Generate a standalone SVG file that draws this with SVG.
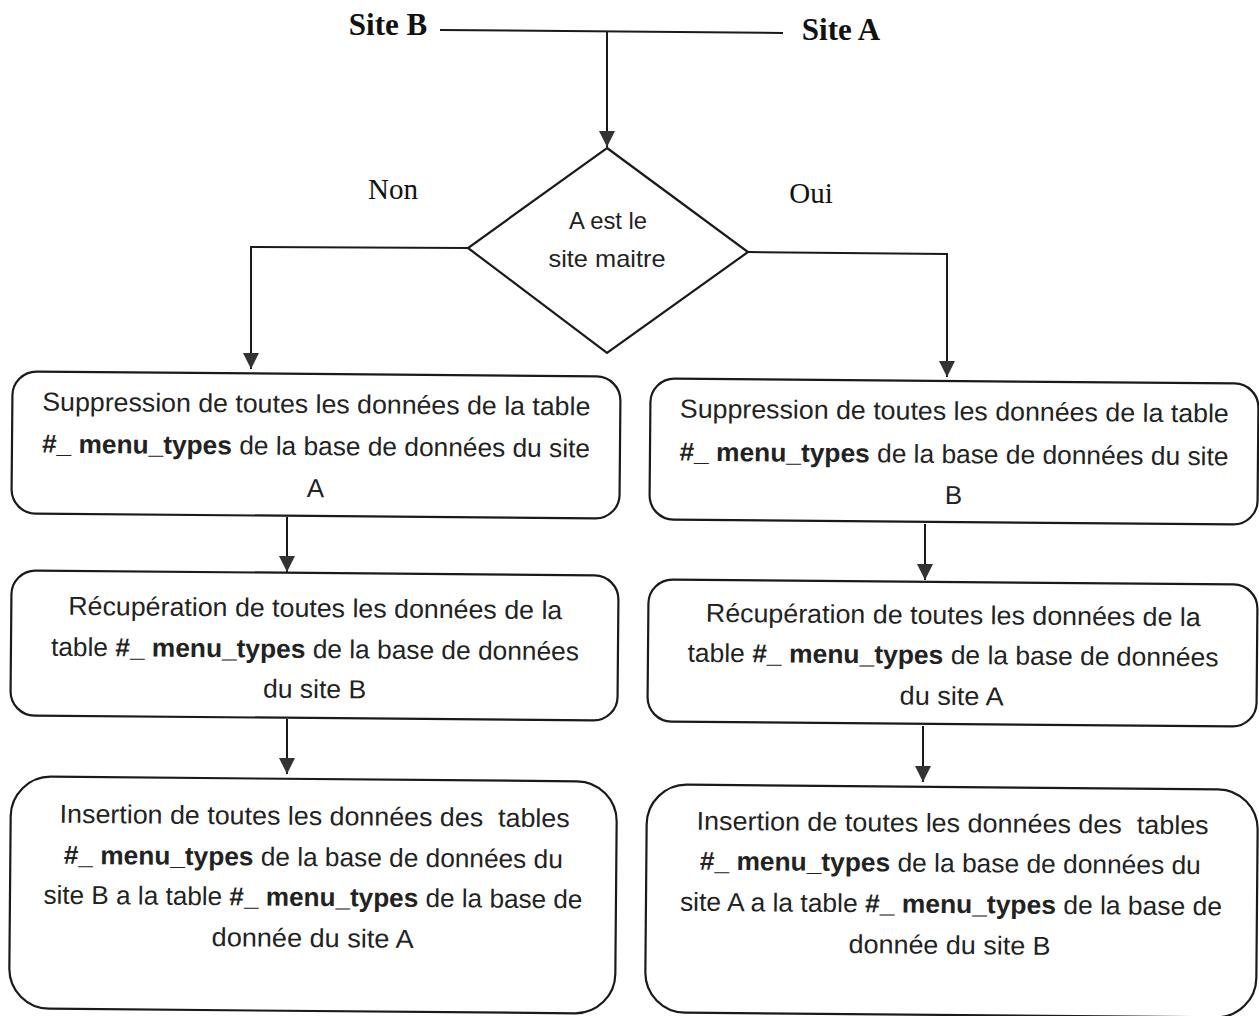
<svg xmlns="http://www.w3.org/2000/svg" width="1259" height="1016" viewBox="0 0 1259 1016">
<style>
.bg{fill:#ffffff}
.box{fill:#ffffff;stroke:#1a1a1a;stroke-width:2.2}
.t{font-family:"Liberation Sans",Arial,sans-serif;font-size:26px;fill:#222;text-anchor:middle}
.b{font-weight:bold}
.dt{font-family:"Liberation Sans",Arial,sans-serif;font-size:24px;fill:#222;text-anchor:middle}
.lbl{font-family:"Liberation Serif","Times New Roman",serif;font-size:29px;fill:#111;text-anchor:middle}
.site{font-family:"Liberation Serif","Times New Roman",serif;font-size:31px;font-weight:bold;fill:#111;text-anchor:middle}
.c{fill:none;stroke:#1a1a1a;stroke-width:2}
</style>
<defs>
<marker id="ah" viewBox="0 0 10 10" refX="10" refY="5" markerUnits="userSpaceOnUse" markerWidth="16" markerHeight="16" orient="auto">
<path d="M0,0 L10,5 L0,10 z" fill="#333"/>
</marker>
</defs>
<rect class="bg" x="0" y="0" width="1259" height="1016"/>

<g id="siteB"><text class="site" x="388" y="35">Site B</text></g>
<g id="siteA"><text class="site" x="841" y="40">Site A</text></g>

<g id="connectors">
<path class="c" d="M440,30 L783,33"/>
<path class="c" d="M607,31 L607,147" marker-end="url(#ah)"/>
<path class="c" d="M468,248 L251,247 L251,369" marker-end="url(#ah)"/>
<path class="c" d="M748,252 L947,254 L947,377" marker-end="url(#ah)"/>
<path class="c" d="M287,517 L287,572" marker-end="url(#ah)"/>
<path class="c" d="M287,719 L287,774" marker-end="url(#ah)"/>
<path class="c" d="M925,524 L925,580" marker-end="url(#ah)"/>
<path class="c" d="M923,726 L923,782" marker-end="url(#ah)"/>
</g>

<g id="lbl-non"><text class="lbl" x="393" y="199">Non</text></g>
<g id="lbl-oui"><text class="lbl" x="811" y="203">Oui</text></g>

<g id="decision">
<polygon class="box" points="607,148 748,252 607,353 468,248"/>
<text class="dt" x="608" y="229" textLength="78" lengthAdjust="spacingAndGlyphs">A est le</text>
<text class="dt" x="607" y="267" textLength="117" lengthAdjust="spacingAndGlyphs">site maitre</text>
</g>

<g id="L1" transform="rotate(0.5 316 445)">
<rect class="box" x="12" y="374" width="608" height="142" rx="24"/>
<text class="t" x="316" y="413" textLength="548" lengthAdjust="spacingAndGlyphs">Suppression de toutes les données de la table</text>
<text class="t" x="316" y="455" textLength="548" lengthAdjust="spacingAndGlyphs"><tspan class="b">#_ menu_types</tspan> de la base de données du site</text>
<text class="t" x="316" y="497">A</text>
</g>

<g id="L2" transform="rotate(0.5 315 645)">
<rect class="box" x="11" y="573" width="607" height="145" rx="24"/>
<text class="t" x="315" y="617" textLength="494" lengthAdjust="spacingAndGlyphs">Récupération de toutes les données de la</text>
<text class="t" x="315" y="658" textLength="528" lengthAdjust="spacingAndGlyphs">table <tspan class="b">#_ menu_types</tspan> de la base de données</text>
<text class="t" x="315" y="698" textLength="103" lengthAdjust="spacingAndGlyphs">du site B</text>
</g>

<g id="L3" transform="rotate(0.5 313 895)">
<rect class="box" x="10" y="779" width="606" height="232" rx="40"/>
<text class="t" x="314" y="825" textLength="510" lengthAdjust="spacingAndGlyphs" xml:space="preserve">Insertion de toutes les données des  tables</text>
<text class="t" x="313" y="866" textLength="499" lengthAdjust="spacingAndGlyphs"><tspan class="b">#_ menu_types</tspan> de la base de données du</text>
<text class="t" x="313" y="906" textLength="539" lengthAdjust="spacingAndGlyphs">site B a la table <tspan class="b">#_ menu_types</tspan> de la base de</text>
<text class="t" x="313" y="947" textLength="202" lengthAdjust="spacingAndGlyphs">donnée du site A</text>
</g>

<g id="R1" transform="rotate(0.5 954 451)">
<rect class="box" x="650" y="381" width="608" height="141" rx="24"/>
<text class="t" x="954" y="420" textLength="549" lengthAdjust="spacingAndGlyphs">Suppression de toutes les données de la table</text>
<text class="t" x="954" y="463" textLength="549" lengthAdjust="spacingAndGlyphs"><tspan class="b">#_ menu_types</tspan> de la base de données du site</text>
<text class="t" x="954" y="504">B</text>
</g>

<g id="R2" transform="rotate(0.5 952 653)">
<rect class="box" x="648" y="582" width="609" height="142" rx="24"/>
<text class="t" x="953" y="624" textLength="495" lengthAdjust="spacingAndGlyphs">Récupération de toutes les données de la</text>
<text class="t" x="953" y="664" textLength="531" lengthAdjust="spacingAndGlyphs">table <tspan class="b">#_ menu_types</tspan> de la base de données</text>
<text class="t" x="952" y="705" textLength="104" lengthAdjust="spacingAndGlyphs">du site A</text>
</g>

<g id="R3" transform="rotate(0.5 952 901)">
<rect class="box" x="646" y="787" width="611" height="228" rx="40"/>
<text class="t" x="952" y="832" textLength="512" lengthAdjust="spacingAndGlyphs" xml:space="preserve">Insertion de toutes les données des  tables</text>
<text class="t" x="950" y="872" textLength="501" lengthAdjust="spacingAndGlyphs"><tspan class="b">#_ menu_types</tspan> de la base de données du</text>
<text class="t" x="951" y="913" textLength="542" lengthAdjust="spacingAndGlyphs">site A a la table <tspan class="b">#_ menu_types</tspan> de la base de</text>
<text class="t" x="950" y="954" textLength="202" lengthAdjust="spacingAndGlyphs">donnée du site B</text>
</g>
</svg>
